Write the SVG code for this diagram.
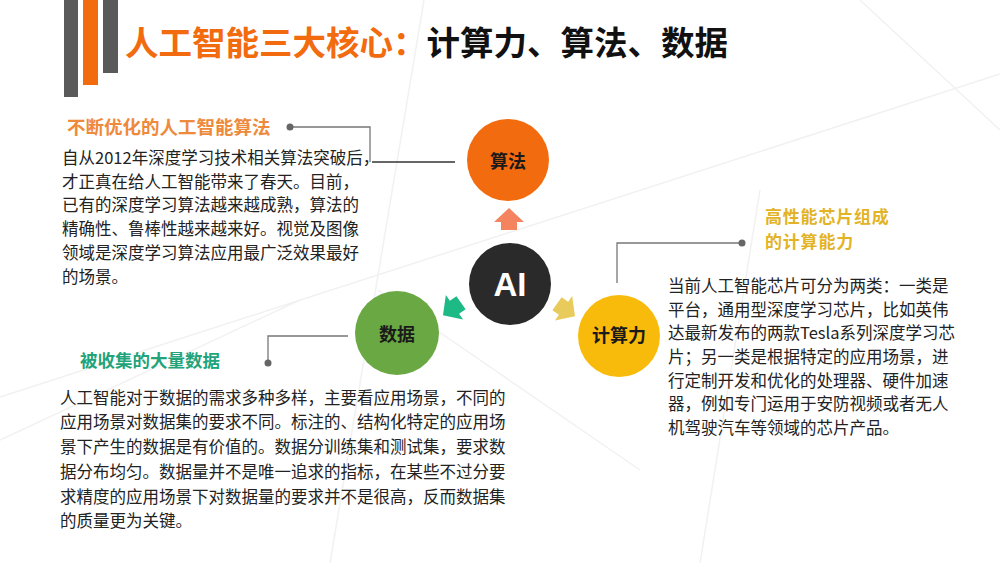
<svg xmlns="http://www.w3.org/2000/svg" width="1000" height="563" viewBox="0 0 1000 563">
<style>
.bg{stroke:#f1f1f1;stroke-width:1.5;fill:none}
.body{font-family:"Noto Sans CJK SC","Noto Sans",sans-serif;font-size:16.5px;fill:#222}
.head{font-family:"Noto Sans CJK SC","Noto Sans",sans-serif;font-weight:bold}
.ctext{font-family:"Noto Sans CJK SC","Noto Sans",sans-serif;font-weight:bold;font-size:18px;fill:#1a1a1a}
.conn{stroke:#777;stroke-width:1.3;fill:none}
.dot{fill:#666}
</style>
<rect width="1000" height="563" fill="#ffffff"/>
<g id="background">
<line class="bg" x1="0" y1="397" x2="1000" y2="74"/>
<line class="bg" x1="424" y1="0" x2="330" y2="563"/>
<line class="bg" x1="378" y1="290" x2="640" y2="470"/>
<line class="bg" x1="0" y1="440" x2="300" y2="300"/>
<line class="bg" x1="860" y1="0" x2="1000" y2="130"/>
<line class="bg" x1="760" y1="190" x2="700" y2="563"/>
</g>
<g id="title-bars">
<rect x="64" y="0" width="14" height="97" fill="#5a5a5a"/>
<rect x="83" y="0" width="15" height="85" fill="#f26b0f"/>
<rect x="103" y="0" width="15" height="73" fill="#5a5a5a"/>
</g>
<g id="title">
<text x="125" y="40" dominant-baseline="central" class="head" font-size="33.5"><tspan fill="#f26b0f">人工智能三大核心：</tspan><tspan fill="#111">计算力、算法、数据</tspan></text>
</g>
<g id="connectors">
<polyline class="conn" points="290,127 370,127 370,162"/>
<line x1="372" y1="162" x2="455" y2="162" stroke="#333" stroke-width="1.3"/>
<circle class="dot" cx="290" cy="127" r="3.5"/>
<polyline class="conn" points="742,243 617,243 617,283"/>
<circle class="dot" cx="742" cy="243" r="3.5"/>
<polyline class="conn" points="268,363 268,336 348,336"/>
<circle class="dot" cx="268" cy="363" r="3.5"/>
<polygon points="0,-11 15,3 8,3 8,11 -8,11 -8,3 -15,3" fill="#f4845f" transform="translate(509,219)"/>
<polygon points="0,-11 15,3 8,3 8,11 -8,11 -8,3 -15,3" fill="#1dba85" transform="translate(452,309) rotate(-125)"/>
<polygon points="0,-11 15,3 8,3 8,11 -8,11 -8,3 -15,3" fill="#e9cb5b" transform="translate(566,310) rotate(125)"/>
</g>
<g id="node-suanfa">
<circle cx="508" cy="160" r="41" fill="#f26b0f"/>
<text x="508" y="160" class="ctext" text-anchor="middle" dominant-baseline="central">算法</text>
</g>
<g id="node-ai">
<circle cx="510" cy="284" r="41" fill="#2b2a2b"/>
<text x="510" y="284" text-anchor="middle" dominant-baseline="central" font-family="Liberation Sans, Arial, sans-serif" font-weight="bold" font-size="33" fill="#ffffff">AI</text>
</g>
<g id="node-shuju">
<circle cx="397" cy="333" r="42" fill="#6aa843"/>
<text x="397" y="333" class="ctext" text-anchor="middle" dominant-baseline="central">数据</text>
</g>
<g id="node-suanli">
<circle cx="619" cy="336" r="41" fill="#f8bb0c"/>
<text x="619" y="334" class="ctext" text-anchor="middle" dominant-baseline="central">计算力</text>
</g>
<g id="text-suanfa">
<text x="67" y="126" class="head" font-size="18.5" fill="#ee8a3c" dominant-baseline="central">不断优化的人工智能算法</text>
<text class="body" dominant-baseline="central">
<tspan x="62" y="157">自从2012年深度学习技术相关算法突破后，</tspan>
<tspan x="62" y="181">才正真在给人工智能带来了春天。目前，</tspan>
<tspan x="62" y="204">已有的深度学习算法越来越成熟，算法的</tspan>
<tspan x="62" y="228">精确性、鲁棒性越来越来好。视觉及图像</tspan>
<tspan x="62" y="252">领域是深度学习算法应用最广泛效果最好</tspan>
<tspan x="62" y="276">的场景。</tspan>
</text>
</g>
<g id="text-suanli">
<text class="head" font-size="17" fill="#e2b324" dominant-baseline="central" letter-spacing="0.8">
<tspan x="765" y="215">高性能芯片组成</tspan>
<tspan x="765" y="240">的计算能力</tspan>
</text>
<text class="body" dominant-baseline="central">
<tspan x="668" y="285">当前人工智能芯片可分为两类：一类是</tspan>
<tspan x="668" y="309">平台，通用型深度学习芯片，比如英伟</tspan>
<tspan x="668" y="332">达最新发布的两款Tesla系列深度学习芯</tspan>
<tspan x="668" y="356">片；另一类是根据特定的应用场景，进</tspan>
<tspan x="668" y="380">行定制开发和优化的处理器、硬件加速</tspan>
<tspan x="668" y="403">器，例如专门运用于安防视频或者无人</tspan>
<tspan x="668" y="427">机驾驶汽车等领域的芯片产品。</tspan>
</text>
</g>
<g id="text-shuju">
<text x="80" y="359" class="head" font-size="17.5" fill="#22a37a" dominant-baseline="central">被收集的大量数据</text>
<text class="body" dominant-baseline="central">
<tspan x="60" y="397">人工智能对于数据的需求多种多样，主要看应用场景，不同的</tspan>
<tspan x="60" y="421">应用场景对数据集的要求不同。标注的、结构化特定的应用场</tspan>
<tspan x="60" y="446">景下产生的数据是有价值的。数据分训练集和测试集，要求数</tspan>
<tspan x="60" y="471">据分布均匀。数据量并不是唯一追求的指标，在某些不过分要</tspan>
<tspan x="60" y="496">求精度的应用场景下对数据量的要求并不是很高，反而数据集</tspan>
<tspan x="60" y="520">的质量更为关键。</tspan>
</text>
</g>
</svg>
